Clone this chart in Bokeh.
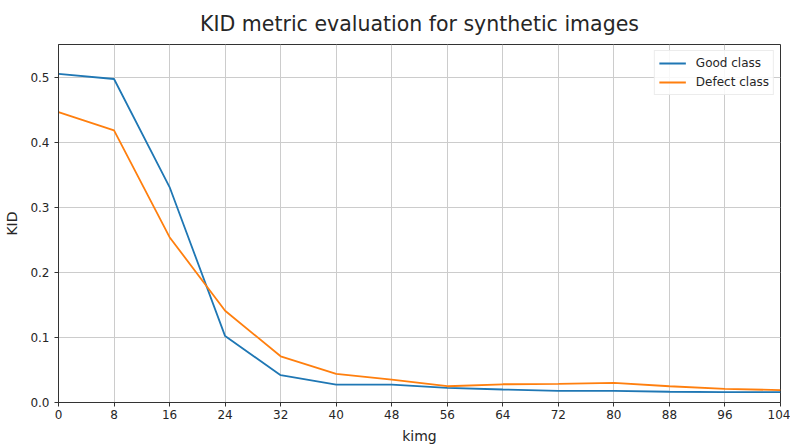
from bokeh.plotting import figure
from bokeh.models import FixedTicker, NumeralTickFormatter, Range1d, Legend, LegendItem
from bokeh.embed import file_html
from bokeh.resources import INLINE

kimg = [0, 8, 16, 24, 32, 40, 48, 56, 64, 72, 80, 88, 96, 104]
good_class = [0.505, 0.497, 0.331, 0.102, 0.042, 0.0275, 0.0275, 0.0225, 0.020, 0.018, 0.018, 0.0165, 0.016, 0.016]
defect_class = [0.446, 0.418, 0.254, 0.141, 0.071, 0.044, 0.035, 0.025, 0.028, 0.0285, 0.030, 0.025, 0.021, 0.019]
x_ticks = [0, 8, 16, 24, 32, 40, 48, 56, 64, 72, 80, 88, 96, 104]
y_ticks = [0.0, 0.1, 0.2, 0.3, 0.4, 0.5]

FONT = "DejaVu Sans"
TXT = "#262626"

p = figure(width=790, height=446, output_backend="svg", toolbar_location=None,
           x_range=Range1d(0, 104), y_range=Range1d(0, 0.55),
           min_border_left=58, min_border_right=10, min_border_top=44, min_border_bottom=43,
           title="KID metric evaluation for synthetic images")

p.title.align = "center"
p.title.text_font = FONT
p.title.text_font_size = "20.5px"
p.title.text_font_style = "normal"
p.title.text_color = TXT
p.title.standoff = 17

l1 = p.line(kimg, good_class, line_color="#1f77b4", line_width=1.8)
l2 = p.line(kimg, defect_class, line_color="#ff7f0e", line_width=1.8)

legend = Legend(items=[LegendItem(label="Good class", renderers=[l1]),
                       LegendItem(label="Defect class", renderers=[l2])],
                location="top_right")
legend.label_text_font = FONT
legend.label_text_font_size = "12px"
legend.label_text_color = TXT
legend.border_line_color = "#d9d9d9"
legend.border_line_width = 1
legend.background_fill_alpha = 0.85
legend.glyph_width = 27
legend.glyph_height = 16
legend.label_height = 16
legend.label_standoff = 10
legend.spacing = 3
legend.padding = 4
legend.margin = 6
p.add_layout(legend)

p.xaxis.ticker = FixedTicker(ticks=x_ticks)
p.yaxis.ticker = FixedTicker(ticks=y_ticks)
p.yaxis.formatter = NumeralTickFormatter(format="0.0")
p.xaxis.axis_label = "kimg"
p.yaxis.axis_label = "KID"

for ax in (p.xaxis, p.yaxis):
    ax.axis_label_text_font = FONT
    ax.axis_label_text_font_size = "14px"
    ax.axis_label_text_font_style = "normal"
    ax.axis_label_text_color = TXT
    ax.major_label_text_font = FONT
    ax.major_label_text_font_size = "12px"
    ax.major_label_text_color = TXT
    ax.axis_line_color = "#333333"
    ax.major_tick_line_color = "#333333"
    ax.major_tick_out = 4
    ax.major_tick_in = 0
    ax.minor_tick_line_color = None

p.xaxis.major_label_standoff = 3
p.xaxis.axis_label_standoff = 6
p.yaxis.major_label_standoff = 5
p.yaxis.axis_label_standoff = 7

p.grid.grid_line_color = "#cccccc"
p.grid.grid_line_width = 1
p.outline_line_color = "#333333"
p.outline_line_width = 1
p.background_fill_color = "white"
p.border_fill_color = "white"

open("out.html", "w").write(file_html(p, INLINE))
